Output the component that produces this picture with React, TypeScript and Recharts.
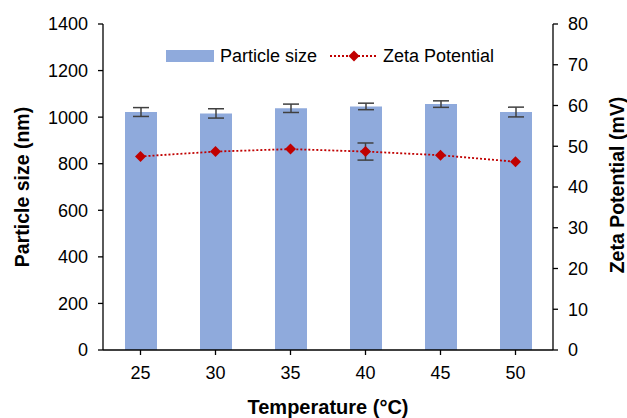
import {
    ComposedChart,
    Bar,
    Line,
    XAxis,
    YAxis,
    ErrorBar,
} from "recharts";

const temperatures = [25, 30, 35, 40, 45, 50];
const particleSize = [1022, 1016, 1038, 1046, 1056, 1022];
const particleSizeErr = [19, 20, 18, 14, 14, 21];
const zetaPotential = [47.5, 48.7, 49.3, 48.7, 47.8, 46.2];
// seules les barres d'erreur visibles (les autres sont cachées sous les losanges)
const zetaErr = [null, null, null, 2.1, null, null];

const sizeTicks = [0, 200, 400, 600, 800, 1000, 1200, 1400];
const zetaTicks = [0, 10, 20, 30, 40, 50, 60, 70, 80];

const data = temperatures.map((t, i) => ({
    temp: t,
    size: particleSize[i],
    sizeErr: particleSizeErr[i],
    zeta: zetaPotential[i],
    zetaErr: zetaErr[i],
}));

const FONT = "'Liberation Sans', Arial, sans-serif";
const BAR_COLOR = "#8FAADC";
const LINE_COLOR = "#C00000";

// losange rouge pour chaque point
const Diamond = (props: any) => {
    const { cx, cy, index } = props;
    if (cx == null || cy == null) return null;
    const r = 5.5;
    return (
        <polygon
            key={`d-${index}`}
            points={`${cx},${cy - r} ${cx + r},${cy} ${cx},${cy + r} ${cx - r},${cy}`}
            fill={LINE_COLOR}
        />
    );
};

// légende dessinée à la main, posée par-dessus le graphique
const ChartLegend = () => (
    <svg
        width={340}
        height={24}
        style={{ position: "absolute", left: 160, top: 44, display: "block" }}
    >
        <rect x={6} y={6} width={48} height={12} fill={BAR_COLOR} />
        <text x={60} y={12} dy="0.36em" fontSize={18} fontFamily={FONT} fill="#000">
            Particle size
        </text>
        <line x1={170} y1={12} x2={218} y2={12} stroke={LINE_COLOR} strokeWidth={1.8} strokeDasharray="2 2" />
        <polygon points="194,6.5 199.5,12 194,17.5 188.5,12" fill={LINE_COLOR} />
        <text x={223} y={12} dy="0.36em" fontSize={18} fontFamily={FONT} fill="#000">
            Zeta Potential
        </text>
    </svg>
);

// titre vertical centré
const verticalTitle = (text: string, cx: number, cy: number) => () =>
    (
        <text
            x={cx}
            y={cy}
            dy="0.36em"
            transform={`rotate(-90 ${cx} ${cy})`}
            textAnchor="middle"
            fontSize={19.5}
            fontWeight="bold"
            fontFamily={FONT}
            fill="#000"
        >
            {text}
        </text>
    );

export default function App() {
    const tickStyle = { fontSize: 18, fontFamily: FONT, fill: "#000" };
    const axisLine = { stroke: "#000", strokeWidth: 1.3 };
    return (
        <div style={{ position: "absolute", left: 0, top: 0, width: 627, height: 418, background: "#fff" }}>
            <ComposedChart
                width={627}
                height={418}
                data={data}
                margin={{ top: 24, right: 0, bottom: 0, left: 0 }}
            >
                <XAxis
                    dataKey="temp"
                    height={68}
                    tick={tickStyle}
                    axisLine={axisLine}
                    tickLine={axisLine}
                    tickSize={5}
                    tickMargin={11}
                    label={{
                        value: "Temperature (°C)",
                        position: "insideBottom",
                        offset: 4,
                        style: { fontSize: 20, fontWeight: "bold", fontFamily: FONT, fill: "#000" },
                    }}
                />
                <YAxis
                    yAxisId="left"
                    width={103}
                    domain={[0, 1400]}
                    ticks={sizeTicks}
                    interval={0}
                    tick={tickStyle}
                    axisLine={axisLine}
                    tickLine={axisLine}
                    tickSize={5}
                    tickMargin={10}
                    label={{ content: verticalTitle("Particle size (nm)", 22, 187) }}
                />
                <YAxis
                    yAxisId="right"
                    orientation="right"
                    width={74}
                    domain={[0, 80]}
                    ticks={zetaTicks}
                    interval={0}
                    tick={tickStyle}
                    axisLine={axisLine}
                    tickLine={axisLine}
                    tickSize={5}
                    tickMargin={10}
                    label={{ content: verticalTitle("Zeta Potential (mV)", 617, 185) }}
                />
                <Bar
                    yAxisId="left"
                    dataKey="size"
                    name="Particle size"
                    fill={BAR_COLOR}
                    barSize={32}
                    isAnimationActive={false}
                >
                    <ErrorBar dataKey="sizeErr" width={8} stroke="#404040" strokeWidth={1.5} direction="y" />
                </Bar>
                <Line
                    yAxisId="right"
                    dataKey="zeta"
                    name="Zeta Potential"
                    stroke={LINE_COLOR}
                    strokeWidth={1.8}
                    strokeDasharray="2 2"
                    dot={Diamond}
                    activeDot={false}
                    isAnimationActive={false}
                >
                    <ErrorBar dataKey="zetaErr" width={8} stroke="#404040" strokeWidth={1.5} direction="y" />
                </Line>
            </ComposedChart>
            <ChartLegend />
        </div>
    );
}
